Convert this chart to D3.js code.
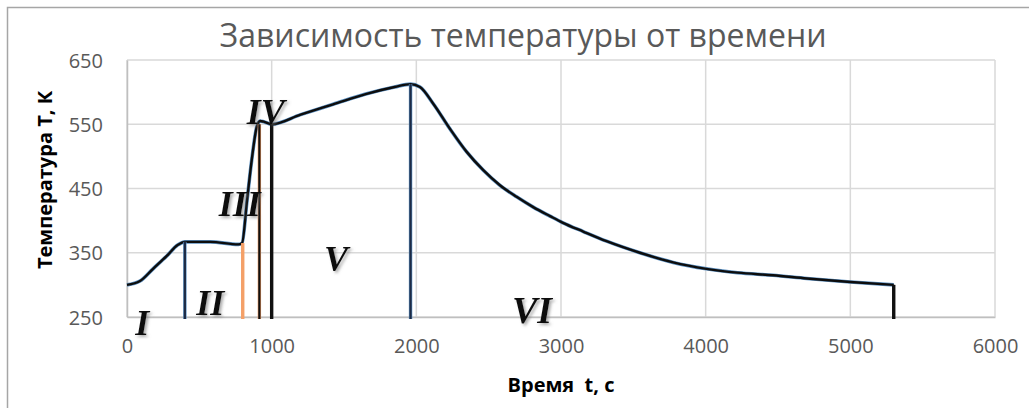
<!DOCTYPE html>
<html lang="en">
<head>
    <meta charset="UTF-8">
    <script src="https://d3js.org/d3.v7.min.js"></script>
    <title>Зависимость температуры от времени</title>
    <style>
        body { margin: 0; background: white; }
        .tick-label { font-family: "Open Sans", sans-serif; font-size: 20px; fill: #595959; }
        .axis-title { font-family: "Open Sans", sans-serif; font-size: 20px; font-weight: bold; fill: #000; white-space: pre; }
        .roman { font-family: "Liberation Serif", "Times New Roman", serif; font-style: italic; font-weight: bold; fill: #111; }
    </style>
</head>
<body>
<div id="chart"></div>
<script>
    // curve points: time (s) and temperature (K)
    var timeValues = [0, 90, 180, 275, 350, 400, 575, 770, 795, 830, 862, 897, 920, 945, 1000,
        1200, 1425, 1650, 1850, 1960, 2025, 2117, 2232, 2348, 2463, 2578, 2693, 2808, 2924,
        3010, 3154, 3315, 3545, 3775, 4005, 4220, 4465, 4700, 5000, 5300];
    var tempValues = [300, 306, 325, 345, 362, 367, 367, 363, 365, 432, 494, 546, 555, 554, 550,
        565, 581, 597, 608, 612.5, 608, 582, 543, 507, 478.5, 455, 437, 421, 407,
        397, 383, 368, 350, 335, 325, 319, 315, 310, 304.5, 300];

    // vertical stage boundaries
    var boundTimes = [400, 800, 915, 1000, 1960, 5300];
    var boundTemps = [367, 365, 550, 550, 612.5, 300];
    var boundColors = ["#1d2b45", "#f4a068", "#111111", "#111111", "#1d2b45", "#111111"];
    var boundEdges = ["#5b8fc0", "#f4a068", "#f4a068", "#111111", "#5b8fc0", "#111111"];

    // stage labels
    var stageNames = ["I", "II", "III", "IV", "V", "VI"];
    var stageTimes = [105, 575, 780, 960, 1445, 2800];
    var stageTemps = [222, 253, 407, 550, 322, 240];
    var stageSizes = [36, 36, 36, 36, 36, 38];

    var xTicks = [0, 1000, 2000, 3000, 4000, 5000, 6000];
    var yTicks = [250, 350, 450, 550, 650];

    var canvasWidth = 1029;
    var canvasHeight = 408;
    var plotLeft = 127, plotRight = 995, plotTop = 60, plotBottom = 317;

    var svg = d3.select("#chart").append("svg")
        .attr("width", canvasWidth)
        .attr("height", canvasHeight);

    var defs = svg.append("defs");
    defs.append("filter").attr("id", "shadow")
        .attr("x", "-20%").attr("y", "-20%").attr("width", "150%").attr("height", "150%")
        .append("feDropShadow")
        .attr("dx", 2).attr("dy", 2).attr("stdDeviation", 1.6)
        .attr("flood-color", "#777").attr("flood-opacity", 0.6);

    // outer chart border
    svg.append("rect")
        .attr("x", 7.5).attr("y", 7.5)
        .attr("width", 1100).attr("height", 500)
        .attr("fill", "white")
        .attr("stroke", "#a6a6a6").attr("stroke-width", 1.5);

    var xScale = d3.scaleLinear().domain([0, 6000]).range([plotLeft, plotRight]);
    var yScale = d3.scaleLinear().domain([250, 650]).range([plotBottom, plotTop]);

    // gridlines
    svg.append("g").selectAll("line").data(yTicks).enter().append("line")
        .attr("x1", plotLeft).attr("x2", plotRight)
        .attr("y1", function (d) { return yScale(d); })
        .attr("y2", function (d) { return yScale(d); })
        .attr("stroke", "#d9d9d9").attr("stroke-width", 1.5);
    svg.append("g").selectAll("line").data(xTicks).enter().append("line")
        .attr("y1", plotTop).attr("y2", plotBottom)
        .attr("x1", function (d) { return xScale(d); })
        .attr("x2", function (d) { return xScale(d); })
        .attr("stroke", "#d9d9d9").attr("stroke-width", 1.5);

    // axes
    var xAxis = svg.append("g")
        .attr("transform", "translate(0," + plotBottom + ")")
        .call(d3.axisBottom(xScale).tickValues(xTicks).tickFormat(d3.format("d")).tickSize(0).tickPadding(22));
    var yAxis = svg.append("g")
        .attr("transform", "translate(" + plotLeft + ",0)")
        .call(d3.axisLeft(yScale).tickValues(yTicks).tickFormat(d3.format("d")).tickSize(0).tickPadding(24));
    [xAxis, yAxis].forEach(function (a) {
        a.select(".domain").attr("stroke", "#bfbfbf").attr("stroke-width", 1.5);
        a.selectAll("text").attr("class", "tick-label").attr("fill", null);
    });
    yAxis.selectAll("text").attr("dy", "0.36em");

    // temperature curve
    var points = timeValues.map(function (t, i) { return [t, tempValues[i]]; });
    var line = d3.line()
        .x(function (d) { return xScale(d[0]); })
        .y(function (d) { return yScale(d[1]); })
        .curve(d3.curveMonotoneX);
    svg.append("path").datum(points)
        .attr("d", line).attr("fill", "none")
        .attr("stroke", "#5b8fc0").attr("stroke-width", 3.6).attr("stroke-linejoin", "round");
    svg.append("path").datum(points)
        .attr("d", line).attr("fill", "none")
        .attr("stroke", "#0d0d0d").attr("stroke-width", 2.4).attr("stroke-linejoin", "round");

    // stage boundaries
    var bounds = svg.append("g").selectAll("g").data(boundTimes).enter().append("g");
    bounds.append("line")
        .attr("x1", function (d) { return xScale(d); })
        .attr("x2", function (d) { return xScale(d); })
        .attr("y1", function (d, i) { return yScale(boundTemps[i]); })
        .attr("y2", plotBottom + 2)
        .attr("stroke", function (d, i) { return boundEdges[i]; })
        .attr("stroke-width", 3.4);
    bounds.append("line")
        .attr("x1", function (d) { return xScale(d); })
        .attr("x2", function (d) { return xScale(d); })
        .attr("y1", function (d, i) { return yScale(boundTemps[i]); })
        .attr("y2", plotBottom + 2)
        .attr("stroke", function (d, i) { return boundColors[i]; })
        .attr("stroke-width", 2.2);

    // roman stage labels
    svg.append("g").selectAll("text").data(stageNames).enter().append("text")
        .attr("class", "roman")
        .attr("x", function (d, i) { return xScale(stageTimes[i]); })
        .attr("y", function (d, i) { return yScale(stageTemps[i]); })
        .attr("text-anchor", "middle")
        .attr("font-size", function (d, i) { return stageSizes[i] + "px"; })
        .attr("filter", "url(#shadow)")
        .text(function (d) { return d; });

    // titles
    svg.append("text")
        .attr("x", 523).attr("y", 47)
        .attr("text-anchor", "middle")
        .attr("font-family", "Open Sans, sans-serif")
        .attr("font-size", "32px")
        .attr("fill", "#595959")
        .text("Зависимость температуры от времени");
    svg.append("text")
        .attr("class", "axis-title")
        .attr("x", 561).attr("y", 392)
        .attr("text-anchor", "middle")
        .text("Время  t, с");
    svg.append("text")
        .attr("class", "axis-title")
        .attr("transform", "translate(52,180) rotate(-90)")
        .attr("text-anchor", "middle")
        .text("Температура Т, К");
</script>
</body>
</html>
